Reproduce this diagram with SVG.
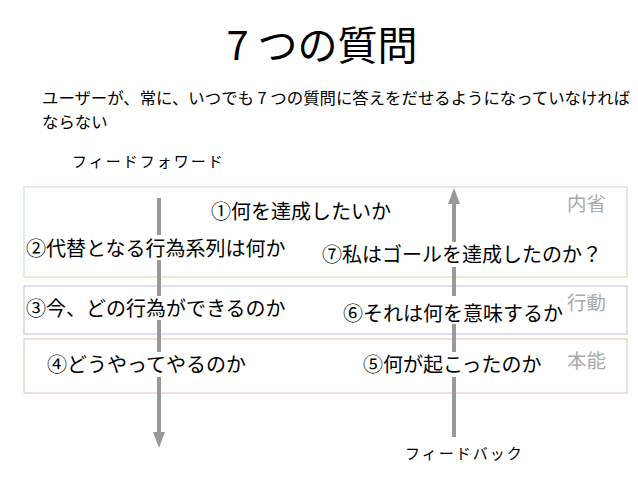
<svg xmlns="http://www.w3.org/2000/svg" width="638" height="479" viewBox="0 0 638 479">
<defs>
<style>
text{font-family:"Noto Sans CJK JP","Noto Sans",sans-serif;fill:#000}
.title{font-size:40px}
.sub{font-size:16.4px}
.lbl{font-size:15px;letter-spacing:2px}
.q{font-size:20px}
.layer{font-size:19.5px;fill:#aaaaaa}
.bg{fill:#fff}
.arrow{stroke:#999;stroke-width:4;fill:none}
</style>
<marker id="ah" markerWidth="4" markerHeight="4" refX="2" refY="2" orient="auto" markerUnits="strokeWidth" viewBox="0 0 4 4">
<path d="M0,0.5 L4,2 L0,3.5 Z" fill="#999"/>
</marker>
</defs>
<rect width="638" height="479" fill="#fff"/>
<g id="title"><text class="title" x="322" y="60" text-anchor="middle">7 つの質問</text></g>
<g id="subtitle">
<text class="sub" x="42" y="104">ユーザーが、常に、いつでも 7 つの質問に答えをだせるようになっていなければ</text>
<text class="sub" x="42" y="128">ならない</text>
</g>
<g id="feedforward-label"><text class="lbl" x="72" y="167">フィードフォワード</text></g>
<g id="feedback-label"><text class="lbl" x="405" y="459">フィードバック</text></g>
<g id="layer-reflective">
<rect x="24" y="187" width="603" height="90" fill="#fff" stroke="#d3ead3" stroke-width="1.5"/>
<text class="layer" x="567" y="211">内省</text>
</g>
<g id="layer-behavioral">
<rect x="24" y="286" width="603" height="48" fill="#fff" stroke="#d3d3f2" stroke-width="1.5"/>
<text class="layer" x="567" y="310">行動</text>
</g>
<g id="layer-visceral">
<rect x="24" y="339" width="603" height="54" fill="#fff" stroke="#f2d3cc" stroke-width="1.5"/>
<text class="layer" x="567" y="368">本能</text>
</g>
<g id="connectors">
<line class="arrow" x1="159" y1="198" x2="159" y2="440" marker-end="url(#ah)"/>
<line class="arrow" x1="454" y1="437" x2="454" y2="196" marker-end="url(#ah)"/>
</g>
<g id="q1"><text class="q" x="211" y="219">①何を達成したいか</text></g>
<g id="q2"><rect class="bg" x="26" y="235" width="256" height="25"/><text class="q" x="26" y="256">②代替となる行為系列は何か</text></g>
<g id="q7"><rect class="bg" x="322" y="242" width="282" height="25"/><text class="q" x="322" y="262">⑦私はゴールを達成したのか？</text></g>
<g id="q3"><rect class="bg" x="26" y="296" width="266" height="24"/><text class="q" x="26" y="316">③今、どの行為ができるのか</text></g>
<g id="q6"><rect class="bg" x="343" y="296" width="224" height="28"/><text class="q" x="343" y="321">⑥それは何を意味するか</text></g>
<g id="q4"><rect class="bg" x="47" y="352" width="206" height="25"/><text class="q" x="47" y="372">④どうやってやるのか</text></g>
<g id="q5"><rect class="bg" x="363" y="352" width="184" height="25"/><text class="q" x="363" y="372">⑤何が起こったのか</text></g>
</svg>
